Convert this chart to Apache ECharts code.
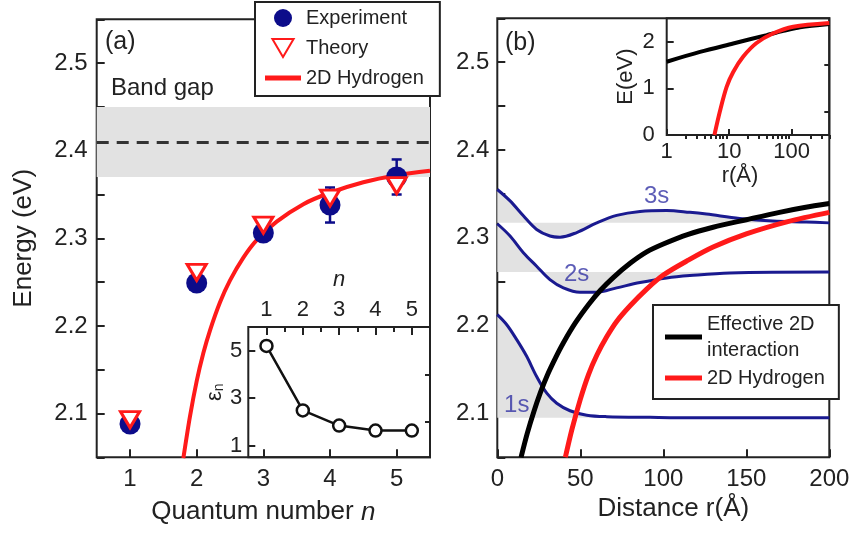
<!DOCTYPE html>
<html><head><meta charset="utf-8">
<script src="https://cdn.jsdelivr.net/npm/echarts@6/dist/echarts.min.js"></script>
<style>html,body{margin:0;padding:0;background:#fff}#c{width:853px;height:534px}</style>
</head><body><div id="c"></div>
<script>
// ---------- data: panel (a) ----------
const quantumN = [1, 2, 3, 4, 5];
const expEnergy = [2.088, 2.249, 2.306, 2.338, 2.370];
const expError = [0, 0, 0, 0.02, 0.02];
const theoryEnergy = [2.093, 2.261, 2.315, 2.346, 2.360];
const hydrogenN = [1.8, 1.9, 2.0, 2.1, 2.2, 2.35, 2.5, 2.7, 2.9, 3.2, 3.6, 4.0, 4.5, 5.0, 5.5];
const hydrogenE = [2.049, 2.097, 2.137, 2.169, 2.195, 2.227, 2.252, 2.278, 2.298, 2.319, 2.339, 2.352, 2.364, 2.372, 2.377];
const bandGapRange = [2.37, 2.45];
const bandGapCenter = 2.41;
// inset (a)
const epsN = [1, 2, 3, 4, 5];
const epsValues = [5.2, 2.48, 1.84, 1.63, 1.63];

// ---------- data: panel (b) ----------
const rEff = [14.3, 18, 22, 26, 30, 35, 40, 47, 55, 62, 70, 80, 90, 100, 115, 130, 150, 170, 185, 200];
const eEff = [2.050, 2.077, 2.102, 2.124, 2.143, 2.163, 2.181, 2.203, 2.224, 2.240, 2.255, 2.271, 2.284, 2.293, 2.304, 2.312, 2.3206, 2.329, 2.3345, 2.339];
const rHyd = [41, 45, 50, 55, 60, 66, 72, 80, 90, 100, 115, 130, 150, 175, 200];
const eHyd = [2.050, 2.082, 2.116, 2.1445, 2.1665, 2.1875, 2.205, 2.2226, 2.2416, 2.2576, 2.2745, 2.2895, 2.3045, 2.3185, 2.329];
const r1s = [0, 5.7, 11.7, 17.7, 23.7, 29.8, 35.8, 43.8, 53.9, 65.9, 92, 120, 200];
const e1s = [2.2125, 2.201, 2.184, 2.165, 2.142, 2.123, 2.1116, 2.103, 2.098, 2.0963, 2.0955, 2.095, 2.095];
const level1s = 2.095;
const r2s = [0, 7.7, 15.7, 23.7, 31.7, 39.8, 49.8, 59.9, 71.9, 86, 102, 116, 140, 200];
const e2s = [2.316, 2.302, 2.283, 2.2676, 2.2524, 2.243, 2.238, 2.238, 2.243, 2.249, 2.2543, 2.257, 2.260, 2.261];
const level2s = 2.261;
const r3s = [0, 7.7, 15.7, 23.7, 31.7, 37.8, 47.8, 59.9, 71.9, 86, 102, 116, 126, 146, 166, 186, 200];
const e3s = [2.355, 2.342, 2.325, 2.3095, 2.302, 2.3007, 2.306, 2.317, 2.3255, 2.330, 2.331, 2.329, 2.327, 2.322, 2.319, 2.318, 2.317];
const level3s = 2.317;
const stateLabels = ['1s', '2s', '3s'];
const stateLabelR = [11.7, 47.8, 96];
const stateLabelE = [2.1096, 2.258, 2.3475];
// inset (b)
const insetREff = [1, 3.41, 11.6, 39.8, 73.6, 136, 400];
const insetEEff = [1.57, 1.78, 1.96, 2.14, 2.23, 2.31, 2.38];
const insetRHyd = [5.8, 7.14, 9.1, 11.6, 16.8, 27.4, 50.9, 106, 400];
const insetEHyd = [0, 0.52, 1.03, 1.35, 1.68, 1.97, 2.18, 2.32, 2.40];

// ---------- ticks ----------
const nTicks = [1, 2, 3, 4, 5];
const nMinorTicks = [1.5, 2.5, 3.5, 4.5];
const energyTicks = [2.05, 2.1, 2.15, 2.2, 2.25, 2.3, 2.35, 2.4, 2.45, 2.5, 2.55];
const energyLabels = [2.1, 2.2, 2.3, 2.4, 2.5];
const distTicks = [0, 50, 100, 150, 200];
const epsTicks = [1, 3, 5];
const epsMinorTicks = [2, 4];
const logTicks = [1, 10, 100];
const logMinorTicks = [2, 3, 4, 5, 6, 7, 8, 9, 20, 30, 40, 50, 60, 70, 80, 90, 200, 300, 400];
const insetETicks = [0, 1, 2];
const insetEMinorTicks = [0.5, 1.5];

// ---------- styling ----------
const FONT = 'Liberation Sans, Arial, sans-serif';
const INK = '#222';
const NAVY = '#0c0c8a';
const WAVE = '#1a1a90';
const RED = '#ff1a1a';
const GRAY = '#e2e2e2';
const zip = (a, b) => a.map((v, i) => [v, b[i]]);

function tick(values, len) {
  return { show: true, inside: true, length: len, customValues: values, lineStyle: { color: INK, width: 2 } };
}
function lbl(values, size, margin, extra) {
  return Object.assign({ show: true, customValues: values, fontSize: size, color: INK, fontFamily: FONT, margin: margin }, extra || {});
}
const noLine = { show: false };
const noSplit = { show: false };

const grids = [
  { left: 96.7, top: 19.3, width: 333.3, height: 438, show: true, borderColor: INK, borderWidth: 2, backgroundColor: 'transparent' },
  { left: 248.3, top: 327, width: 181.7, height: 130.3, show: true, borderColor: INK, borderWidth: 2, backgroundColor: 'transparent' },
  { left: 497.3, top: 18.3, width: 332, height: 439, show: true, borderColor: INK, borderWidth: 2, backgroundColor: 'transparent' },
  { left: 666.7, top: 18.3, width: 162.6, height: 116.7, show: true, borderColor: INK, borderWidth: 2, backgroundColor: 'transparent' }
];

const xAxes = [
  { gridIndex: 0, type: 'value', min: 0.5, max: 5.5, axisLine: noLine, splitLine: noSplit,
    axisTick: tick(nTicks, 8), axisLabel: lbl(nTicks, 24, 10),
    name: 'Quantum number {i|n}', nameLocation: 'middle', nameGap: 42,
    nameTextStyle: { fontSize: 26, color: INK, fontFamily: FONT,
      rich: { i: { fontStyle: 'italic', fontSize: 26, color: INK, fontFamily: FONT } } } },
  { gridIndex: 1, type: 'value', position: 'top', min: 0.5, max: 5.5, axisLine: noLine, splitLine: noSplit,
    axisTick: tick(nTicks, 8), axisLabel: lbl(nTicks, 22, 6),
    name: 'n', nameLocation: 'middle', nameGap: 36,
    nameTextStyle: { fontSize: 22, fontStyle: 'italic', color: INK, fontFamily: FONT } },
  { gridIndex: 1, type: 'value', position: 'top', min: 0.5, max: 5.5, axisLine: noLine, splitLine: noSplit,
    axisTick: tick(nMinorTicks, 5), axisLabel: { show: false } },
  { gridIndex: 2, type: 'value', min: 0, max: 200, axisLine: noLine, splitLine: noSplit,
    axisTick: tick(distTicks, 8), axisLabel: lbl(distTicks, 24, 10),
    name: 'Distance r(Å)', nameLocation: 'middle', nameGap: 38,
    nameTextStyle: { fontSize: 26, color: INK, fontFamily: FONT, padding: [0, 0, 0, 20] } },
  { gridIndex: 3, type: 'log', logBase: 10, min: 1, max: 400, axisLine: noLine, splitLine: noSplit,
    axisTick: tick(logTicks, 6), axisLabel: lbl(logTicks, 22, 6),
    name: 'r(Å)', nameLocation: 'middle', nameGap: 30,
    nameTextStyle: { fontSize: 22, color: INK, fontFamily: FONT, padding: [0, 16, 0, 0] } },
  { gridIndex: 3, type: 'log', logBase: 10, min: 1, max: 400, axisLine: noLine, splitLine: noSplit,
    axisTick: tick(logMinorTicks, 4), axisLabel: { show: false } }
];

const yAxes = [
  { gridIndex: 0, type: 'value', min: 2.05, max: 2.55, axisLine: noLine, splitLine: noSplit,
    axisTick: tick(energyTicks, 8), axisLabel: lbl(energyLabels, 24, 9, { formatter: v => Number(v).toFixed(1) }),
    name: 'Energy (eV)', nameLocation: 'middle', nameGap: 60,
    nameTextStyle: { fontSize: 26, color: INK, fontFamily: FONT } },
  { gridIndex: 1, type: 'value', min: 0.5, max: 6.0, axisLine: noLine, splitLine: noSplit,
    axisTick: tick(epsTicks, 7), axisLabel: lbl(epsTicks, 22, 6),
    name: '{e|ε}{s|n}', nameLocation: 'middle', nameGap: 22,
    nameTextStyle: { color: INK, fontFamily: FONT,
      rich: { e: { fontSize: 22, color: INK, fontFamily: FONT }, s: { fontSize: 14, color: INK, fontFamily: FONT, verticalAlign: 'bottom', padding: [8, 0, 0, 0] } } } },
  { gridIndex: 1, type: 'value', min: 0.5, max: 6.0, axisLine: noLine, splitLine: noSplit,
    axisTick: tick(epsMinorTicks, 5), axisLabel: { show: false } },
  { gridIndex: 2, type: 'value', min: 2.05, max: 2.55, axisLine: noLine, splitLine: noSplit,
    axisTick: tick(energyTicks, 8), axisLabel: lbl(energyLabels, 24, 8, { formatter: v => Number(v).toFixed(1) }) },
  { gridIndex: 3, type: 'value', min: 0, max: 2.5, axisLine: noLine, splitLine: noSplit,
    axisTick: tick(insetETicks, 7), axisLabel: lbl(insetETicks, 22, 12),
    name: 'E(eV)', nameLocation: 'middle', nameGap: 30,
    nameTextStyle: { fontSize: 22, color: INK, fontFamily: FONT } },
  { gridIndex: 3, type: 'value', min: 0, max: 2.5, axisLine: noLine, splitLine: noSplit,
    axisTick: tick(insetEMinorTicks, 5), axisLabel: { show: false } }
];

const errData = quantumN.map((n, i) => [n, expEnergy[i] - expError[i], expEnergy[i] + expError[i]]).filter(d => d[2] > d[1]);

const series = [
  { name: '2D Hydrogen', type: 'line', xAxisIndex: 0, yAxisIndex: 0, data: zip(hydrogenN, hydrogenE),
    smooth: 0.3, symbol: 'none', showSymbol: false, z: 3, lineStyle: { color: RED, width: 4 }, itemStyle: { color: RED },
    markArea: { silent: true, z: 1, itemStyle: { color: GRAY }, data: [[{ yAxis: bandGapRange[0] }, { yAxis: bandGapRange[1] }]] },
    markLine: { silent: true, symbol: 'none', label: { show: false }, lineStyle: { color: '#333', width: 3, type: [12, 8] },
      data: [{ yAxis: bandGapCenter }] } },
  { name: 'errorbars', type: 'custom', xAxisIndex: 0, yAxisIndex: 0, z: 4, data: errData,
    encode: { x: 0, y: [1, 2] },
    renderItem: function (params, api) {
      const x = api.value(0), lo = api.value(1), hi = api.value(2);
      const p1 = api.coord([x, lo]), p2 = api.coord([x, hi]);
      const c = 5, st = { stroke: NAVY, lineWidth: 2.5 };
      return { type: 'group', children: [
        { type: 'line', shape: { x1: p1[0], y1: p1[1], x2: p2[0], y2: p2[1] }, style: st },
        { type: 'line', shape: { x1: p1[0] - c, y1: p1[1], x2: p1[0] + c, y2: p1[1] }, style: st },
        { type: 'line', shape: { x1: p2[0] - c, y1: p2[1], x2: p2[0] + c, y2: p2[1] }, style: st }
      ] };
    } },
  { name: 'Experiment', type: 'scatter', xAxisIndex: 0, yAxisIndex: 0, data: zip(quantumN, expEnergy),
    symbol: 'circle', symbolSize: 21, z: 5, itemStyle: { color: NAVY, opacity: 1 } },
  { name: 'Theory', type: 'scatter', xAxisIndex: 0, yAxisIndex: 0, data: zip(quantumN, theoryEnergy),
    symbol: 'path://M0,0 L20,0 L10,17 Z', symbolSize: [19, 16], z: 6,
    itemStyle: { color: '#ffffff', borderColor: RED, borderWidth: 3, opacity: 1 } },
  { name: 'eps', type: 'line', xAxisIndex: 1, yAxisIndex: 1, data: zip(epsN, epsValues),
    symbol: 'circle', symbolSize: 12, showAllSymbol: true, z: 5,
    lineStyle: { color: '#111', width: 2.5 }, itemStyle: { color: '#fff', borderColor: '#111', borderWidth: 2.5 } },
  { name: 'wave1s', type: 'line', xAxisIndex: 3, yAxisIndex: 3, data: zip(r1s, e1s), smooth: 0.35, symbol: 'none', z: 2,
    lineStyle: { color: WAVE, width: 3 }, areaStyle: { origin: level1s, color: GRAY, opacity: 1 } },
  { name: 'wave2s', type: 'line', xAxisIndex: 3, yAxisIndex: 3, data: zip(r2s, e2s), smooth: 0.35, symbol: 'none', z: 2,
    lineStyle: { color: WAVE, width: 3 }, areaStyle: { origin: level2s, color: GRAY, opacity: 1 } },
  { name: 'wave3s', type: 'line', xAxisIndex: 3, yAxisIndex: 3, data: zip(r3s, e3s), smooth: 0.35, symbol: 'none', z: 2,
    lineStyle: { color: WAVE, width: 3 }, areaStyle: { origin: level3s, color: GRAY, opacity: 1 } },
  { name: 'Effective 2D\ninteraction', type: 'line', xAxisIndex: 3, yAxisIndex: 3, data: zip(rEff, eEff),
    smooth: 0.3, symbol: 'none', z: 4, lineStyle: { color: '#000', width: 5 }, itemStyle: { color: '#000' } },
  { name: '2D Hydrogen', type: 'line', xAxisIndex: 3, yAxisIndex: 3, data: zip(rHyd, eHyd),
    smooth: 0.3, symbol: 'none', z: 4, lineStyle: { color: RED, width: 5 }, itemStyle: { color: RED } },
  { name: 'stateLabels', type: 'scatter', xAxisIndex: 3, yAxisIndex: 3, z: 7,
    data: stateLabels.map((s, i) => ({ name: s, value: [stateLabelR[i], stateLabelE[i]] })),
    symbolSize: 1, itemStyle: { color: 'rgba(0,0,0,0)' },
    label: { show: true, position: 'inside', formatter: '{b}', fontSize: 24, color: '#3535a5', fontFamily: FONT } },
  { name: 'insetEff', type: 'line', xAxisIndex: 4, yAxisIndex: 4, data: zip(insetREff, insetEEff),
    smooth: 0.3, symbol: 'none', z: 4, lineStyle: { color: '#000', width: 4 } },
  { name: 'insetHyd', type: 'line', xAxisIndex: 4, yAxisIndex: 4, data: zip(insetRHyd, insetEHyd),
    smooth: 0.3, symbol: 'none', z: 5, lineStyle: { color: RED, width: 4 } }
];

const legendText = { fontSize: 20, color: INK, fontFamily: FONT };
const barIcon = 'path://M0,0 L40,0 L40,5.5 L0,5.5 Z';
const option = {
  animation: false,
  backgroundColor: '#fff',
  textStyle: { fontFamily: FONT },
  grid: grids,
  xAxis: xAxes,
  yAxis: yAxes,
  legend: [
    { data: ['Experiment', 'Theory', { name: '2D Hydrogen', icon: barIcon }], orient: 'vertical', left: 255, top: 2,
      padding: [6, 16, 8, 10], itemGap: 10, itemWidth: 36, itemHeight: 18, selectedMode: false,
      backgroundColor: '#fff', borderColor: INK, borderWidth: 2, borderRadius: 0,
      textStyle: legendText },
    { data: [{ name: 'Effective 2D\ninteraction', icon: barIcon }, { name: '2D Hydrogen', icon: barIcon }],
      orient: 'vertical', left: 653, top: 305,
      padding: [6, 14, 8, 12], itemGap: 2, itemWidth: 37, itemHeight: 26, selectedMode: false,
      backgroundColor: '#fff', borderColor: INK, borderWidth: 2, borderRadius: 0,
      textStyle: Object.assign({ lineHeight: 26 }, legendText) }
  ],
  graphic: [
    { type: 'text', style: { x: 105, y: 42, text: '(a)', font: '25px ' + FONT, fill: INK, verticalAlign: 'middle', textVerticalAlign: 'middle' } },
    { type: 'text', style: { x: 111, y: 88, text: 'Band gap', font: '24px ' + FONT, fill: INK, verticalAlign: 'middle', textVerticalAlign: 'middle' } },
    { type: 'text', style: { x: 505, y: 43, text: '(b)', font: '25px ' + FONT, fill: INK, verticalAlign: 'middle', textVerticalAlign: 'middle' } }
  ],
  series: series
};
const chart = echarts.init(document.getElementById('c'), null, { renderer: 'canvas' });
chart.setOption(option);
</script></body></html>
